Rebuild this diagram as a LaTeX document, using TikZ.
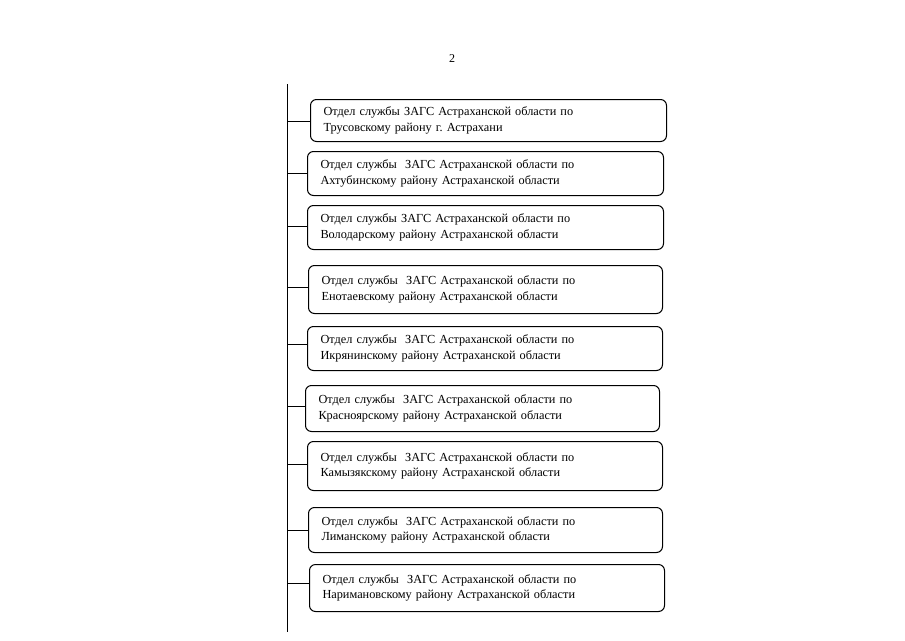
\documentclass[tikz,border=0pt]{standalone}
\usepackage{fontspec}
\setmainfont{Liberation Serif}
\begin{document}
\begin{tikzpicture}[x=1pt,y=-1pt,
  unit/.style={draw=black, line width=1pt, rounded corners=6pt, anchor=north west,
    align=left, inner xsep=13pt, font=\fontsize{12.3}{15.5}\selectfont},
  link/.style={draw=black, line width=0.8pt}]
\useasboundingbox[fill=white] (0,0) rectangle (905,640);
\node[font=\fontsize{12}{14}\selectfont] (pg) at (452,59) {2};
\coordinate (top) at (287,84);
\coordinate (bot) at (287,632);
\draw[link] (top) -- (bot);
\node[unit, text width=330pt, minimum height=42pt] (b1) at (310,99) {Отдел службы ЗАГС Астраханской области по\\Трусовскому району г.\ Астрахани};
\node[unit, text width=330pt, minimum height=44pt] (b2) at (307,151) {Отдел службы\ \ ЗАГС Астраханской области по\\Ахтубинскому району Астраханской области};
\node[unit, text width=330pt, minimum height=44pt] (b3) at (307,205) {Отдел службы ЗАГС Астраханской области по\\Володарскому району Астраханской области};
\node[unit, text width=328pt, minimum height=48pt] (b4) at (308,265) {Отдел службы\ \ ЗАГС Астраханской области по\\Енотаевскому району Астраханской области};
\node[unit, text width=329pt, minimum height=44pt] (b5) at (307,326) {Отдел службы\ \ ЗАГС Астраханской области по\\Икрянинскому району Астраханской области};
\node[unit, text width=328pt, minimum height=46pt] (b6) at (305,385) {Отдел службы\ \ ЗАГС Астраханской области по\\Красноярскому району Астраханской области};
\node[unit, text width=329pt, minimum height=49pt] (b7) at (307,441) {Отдел службы\ \ ЗАГС Астраханской области по\\Камызякскому району Астраханской области};
\node[unit, text width=328pt, minimum height=45pt] (b8) at (308,507) {Отдел службы\ \ ЗАГС Астраханской области по\\Лиманскому району Астраханской области};
\node[unit, text width=329pt, minimum height=47pt] (b9) at (309,564) {Отдел службы\ \ ЗАГС Астраханской области по\\Наримановскому району Астраханской области};
\coordinate (t1) at (287,121);
\coordinate (t2) at (287,173);
\coordinate (t3) at (287,226);
\coordinate (t4) at (287,287);
\coordinate (t5) at (287,344);
\coordinate (t6) at (287,406);
\coordinate (t7) at (287,464);
\coordinate (t8) at (287,530);
\coordinate (t9) at (287,583);
\foreach \i in {1,...,9} {\draw[link] (t\i) -- (t\i -| b\i.west);}
\end{tikzpicture}
\end{document}
